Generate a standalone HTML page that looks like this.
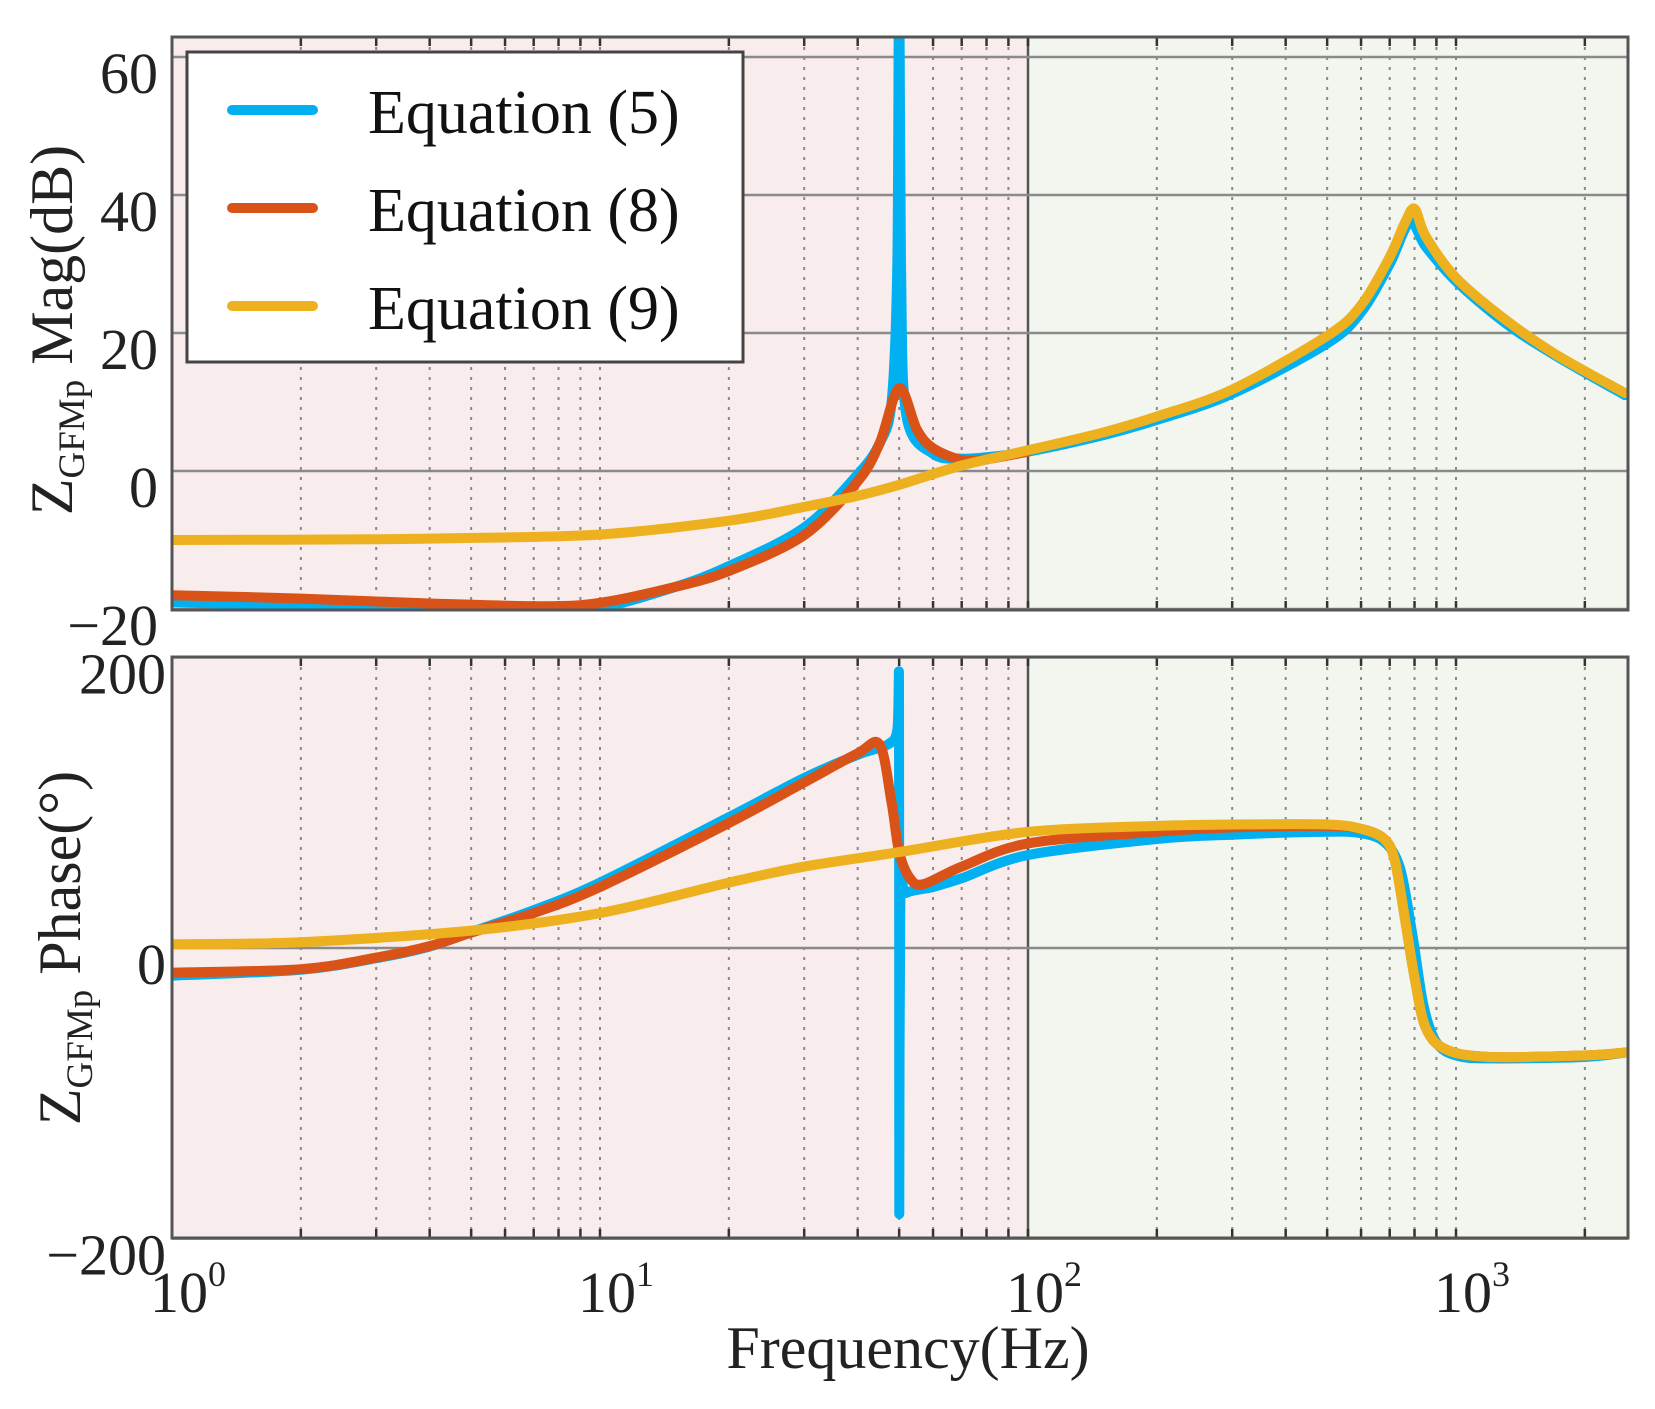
<!DOCTYPE html>
<html><head><meta charset="utf-8"><style>
html,body{margin:0;padding:0;background:#fff}
svg{display:block}
text{font-family:"Liberation Serif",serif;fill:#222}
</style></head><body>
<svg id="chart" width="1655" height="1409" viewBox="0 0 1655 1409" xmlns="http://www.w3.org/2000/svg">
<defs>
<clipPath id="clipTop"><rect x="172" y="37" width="1456" height="573"/></clipPath>
<clipPath id="clipBot"><rect x="172" y="657" width="1456" height="581"/></clipPath>
</defs>
<g id="bg"></g>
<g id="grid"></g>
<g id="series"></g>
<g id="frame"></g>
<g id="labels"></g>
<g id="legend"></g>
</svg>
<script>
// ---- data ----
const magTicks = [60, 40, 20, 0, -20];
const magTickLabels = ["60", "40", "20", "0", "\u221220"];
const phaseTicks = [200, 0, -200];
const phaseTickLabels = ["200", "0", "\u2212200"];
const freqDecades = [0, 1, 2, 3];
const seriesNames = ["Equation (5)", "Equation (8)", "Equation (9)"];
const seriesColors = ["#00b0f0", "#d95319", "#edb120"];

const magEq5F = [1, 2, 4, 6.5, 10, 15, 20, 30, 40, 45, 48, 49.5, 50, 50.5, 52, 60, 70, 80, 100, 150, 200, 300, 500, 600, 700, 780, 850, 1000, 1300, 1700, 2480];
const magEq5V = [-19, -19.6, -20.3, -20.8, -19.8, -16.8, -13.8, -8.2, -0.5, 4, 10, 30, 75, 30, 8, 2.5, 1.8, 2, 2.8, 5.2, 7.4, 11.2, 18.5, 23, 30, 36, 32.5, 27.5, 21.5, 16.8, 11];
const magEq8F = [1, 2, 4, 7.4, 10, 15, 20, 30, 40, 45, 50, 55, 60, 70, 80, 100];
const magEq8V = [-18, -18.5, -19.2, -19.6, -19.1, -16.8, -14.5, -9.3, -1.5, 4, 12, 6, 3.3, 1.6, 1.7, 2.8];
const magEq9F = [1, 3, 5, 10, 20, 30, 40, 50, 70, 100, 150, 200, 300, 500, 600, 700, 760, 800, 850, 1000, 1300, 1700, 2480];
const magEq9V = [-10, -9.9, -9.7, -9.2, -7.2, -5.2, -3.6, -2, 0.8, 3, 5.6, 7.9, 11.8, 19.6, 24, 31, 36, 38, 34, 28, 22, 17, 11.3];

const phEq5F = [1, 2, 3, 4, 5, 7, 10, 20, 30, 40, 47, 49.5, 49.95, 50, 50.05, 50.3, 52, 60, 70, 100, 200, 300, 500, 600, 680, 740, 790, 840, 900, 1000, 1200, 2000, 2480];
const phEq5V = [-19, -15, -7, 1, 11, 26, 45, 90, 117, 133, 140, 150, 184, 0, -183, 30, 38, 42, 48, 64, 75, 78, 80, 79, 73, 55, 10, -40, -65, -74, -76, -75, -72];
const phEq8F = [1, 2, 3, 4, 5, 7, 10, 20, 30, 40, 45, 48, 50, 53, 57, 70, 100, 200, 300, 500, 600, 680, 720, 760, 800, 850, 950, 1200, 2000, 2480];
const phEq8V = [-17, -14.6, -6.6, 1.3, 10.6, 24, 42, 86, 114, 134, 140, 100, 66, 48, 44, 56, 72, 80, 83, 84, 82, 75, 60, 20, -20, -55, -70, -75, -74, -72];
const phEq9F = [1, 2, 5, 10, 20, 30, 50, 100, 200, 300, 500, 600, 680, 720, 760, 800, 850, 950, 1200, 2000, 2480];
const phEq9V = [2.6, 4, 12, 24, 45, 56, 66, 80, 84, 85, 85, 82, 75, 60, 20, -20, -55, -70, -75, -74, -72];

// ---- axes ----
const X0 = 172, DEC = 428, XR = 1628;
const TOP_T = 37, TOP_B = 610, BOT_T = 657, BOT_B = 1238;
const xS = f => X0 + Math.log10(f) * DEC;
const yMag = v => 471 - v * 6.9;
const yPh = p => 948 - p * 1.453;
const NS = "http://www.w3.org/2000/svg";
function mk(tag, attrs, parent) {
  const e = document.createElementNS(NS, tag);
  for (const k in attrs) e.setAttribute(k, attrs[k]);
  parent.appendChild(e);
  return e;
}
const bg = document.getElementById('bg'), grid = document.getElementById('grid'),
  series = document.getElementById('series'), frame = document.getElementById('frame'),
  labels = document.getElementById('labels'), legend = document.getElementById('legend');

[[TOP_T, TOP_B, 'top'], [BOT_T, BOT_B, 'bottom']].forEach(([t, b, n]) => {
  const r1 = mk('rect', {x: X0, y: t, width: xS(100) - X0, height: b - t, fill: '#f8ecec'}, bg);
  
  
  const r2 = mk('rect', {x: xS(100), y: t, width: XR - xS(100), height: b - t, fill: '#f3f6ef'}, bg);
  
  
});

const fmax = Math.pow(10, (XR - X0) / DEC);
for (let d = 0; d <= 3; d++) {
  for (let m = 1; m <= 9; m++) {
    const f = m * Math.pow(10, d);
    if (f <= 1 || f > fmax) continue;
    const x = xS(f);
    [[TOP_T, TOP_B], [BOT_T, BOT_B]].forEach(([t, b]) => {
      if (f === 100) {
        mk('line', {x1: x, y1: t, x2: x, y2: b, stroke: '#555', 'stroke-width': 2.5}, grid);
      } else {
        mk('line', {x1: x, y1: t, x2: x, y2: b, stroke: '#888', 'stroke-width': 2, 'stroke-dasharray': '3,7'}, grid);
      }
      mk('line', {x1: x, y1: t, x2: x, y2: t + 9, stroke: '#333', 'stroke-width': 2.5}, grid);
      mk('line', {x1: x, y1: b, x2: x, y2: b - 9, stroke: '#333', 'stroke-width': 2.5}, grid);
    });
  }
}
magTicks.forEach(v => mk('line', {x1: X0, y1: yMag(v), x2: XR, y2: yMag(v), stroke: '#8a8a8a', 'stroke-width': 2.5}, grid));
phaseTicks.forEach(v => mk('line', {x1: X0, y1: yPh(v), x2: XR, y2: yPh(v), stroke: '#8a8a8a', 'stroke-width': 2.5}, grid));

function pathFrom(F, V, yf) {
  const pts = F.map((f, i) => [xS(f), yf(V[i])]);
  let d = 'M' + pts[0][0].toFixed(1) + ',' + pts[0][1].toFixed(1);
  for (let i = 0; i < pts.length - 1; i++) {
    const p0 = pts[Math.max(0, i - 1)], p1 = pts[i], p2 = pts[i + 1], p3 = pts[Math.min(pts.length - 1, i + 2)];
    const t = 0.16;
    const c1 = [p1[0] + (p2[0] - p0[0]) * t, p1[1] + (p2[1] - p0[1]) * t];
    const c2 = [p2[0] - (p3[0] - p1[0]) * t, p2[1] - (p3[1] - p1[1]) * t];
    c1[0] = Math.min(Math.max(c1[0], p1[0]), p2[0]);
    c2[0] = Math.min(Math.max(c2[0], p1[0]), p2[0]);
    d += ' C' + c1.map(n => n.toFixed(1)).join(',') + ' ' + c2.map(n => n.toFixed(1)).join(',') + ' ' + p2[0].toFixed(1) + ',' + p2[1].toFixed(1);
  }
  return d;
}
const gTop = mk('g', {'clip-path': 'url(#clipTop)'}, series);
const gBot = mk('g', {'clip-path': 'url(#clipBot)'}, series);
const magSets = [[magEq5F, magEq5V], [magEq8F, magEq8V], [magEq9F, magEq9V]];
const phSets = [[phEq5F, phEq5V], [phEq8F, phEq8V], [phEq9F, phEq9V]];
const keys = ['eq5', 'eq8', 'eq9'];
magSets.forEach((s, i) => {
  const p = mk('path', {d: pathFrom(s[0], s[1], yMag), fill: 'none', stroke: seriesColors[i], 'stroke-width': 10, 'stroke-linejoin': 'round', 'stroke-linecap': 'round'}, gTop);
  
  
});
phSets.forEach((s, i) => {
  const p = mk('path', {d: pathFrom(s[0], s[1], yPh), fill: 'none', stroke: seriesColors[i], 'stroke-width': 10, 'stroke-linejoin': 'round', 'stroke-linecap': 'round'}, gBot);
  
  
});

[[TOP_T, TOP_B, 'magnitude-axes-frame'], [BOT_T, BOT_B, 'phase-axes-frame']].forEach(([t, b, n]) => {
  const r = mk('rect', {x: X0, y: t, width: XR - X0, height: b - t, fill: 'none', stroke: '#555', 'stroke-width': 3}, frame);
  
  
});

magTicks.forEach((v, i) => {
  const t = mk('text', {x: 158, y: yMag(v) + 36, 'text-anchor': 'end', 'font-size': 58}, labels);
  t.textContent = magTickLabels[i];
  
  
});
phaseTicks.forEach((v, i) => {
  const t = mk('text', {x: 166, y: yPh(v) + 36, 'text-anchor': 'end', 'font-size': 58}, labels);
  t.textContent = phaseTickLabels[i];
  
  
});
freqDecades.forEach(d => {
  const t = mk('text', {x: xS(Math.pow(10, d)) - 22, y: 1312, 'font-size': 58}, labels);
  t.textContent = '10';
  const s = mk('tspan', {dy: -26, 'font-size': 36}, t);
  s.textContent = String(d);
  
  
});
</script>
<svg style="position:absolute;left:0;top:0" width="1655" height="1409">
<text x="908" y="1368" text-anchor="middle" font-size="60" style="font-family:'Liberation Serif',serif;fill:#222">Frequency(Hz)</text>
<text transform="translate(72,330) rotate(-90)" text-anchor="middle" font-size="60" style="font-family:'Liberation Serif',serif;fill:#222">Z<tspan font-size="37" dy="12">GFMp</tspan><tspan dy="-12"> Mag(dB)</tspan></text>
<text transform="translate(80,948) rotate(-90)" text-anchor="middle" font-size="60" style="font-family:'Liberation Serif',serif;fill:#222">Z<tspan font-size="37" dy="12">GFMp</tspan><tspan dy="-12"> Phase(°)</tspan></text>
<g>
<rect x="187" y="52" width="556" height="310" fill="#fff" stroke="#444" stroke-width="3"/>
<g>
<line x1="232" y1="110" x2="313" y2="110" stroke="#00b0f0" stroke-width="10" stroke-linecap="round"/>
<text x="368" y="133" font-size="62" style="font-family:'Liberation Serif',serif;fill:#111">Equation (5)</text></g>
<g>
<line x1="232" y1="208" x2="313" y2="208" stroke="#d95319" stroke-width="10" stroke-linecap="round"/>
<text x="368" y="231" font-size="62" style="font-family:'Liberation Serif',serif;fill:#111">Equation (8)</text></g>
<g>
<line x1="232" y1="306" x2="313" y2="306" stroke="#edb120" stroke-width="10" stroke-linecap="round"/>
<text x="368" y="329" font-size="62" style="font-family:'Liberation Serif',serif;fill:#111">Equation (9)</text></g>
</g>
</svg>
</body></html>
